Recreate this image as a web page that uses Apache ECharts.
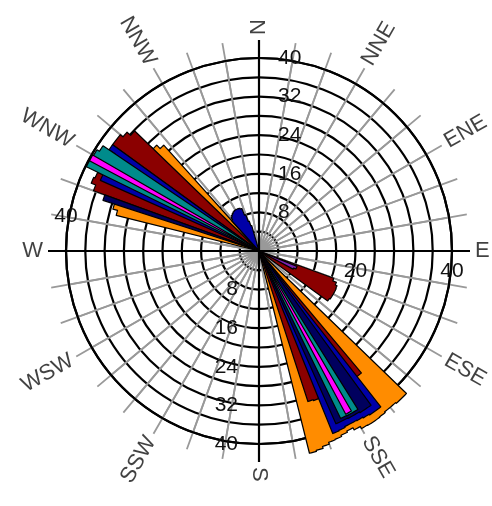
<!DOCTYPE html>
<html>
<head>
<meta charset="utf-8">
<script src="https://cdn.jsdelivr.net/npm/echarts@6/dist/echarts.min.js"></script>
<style>
  html, body { margin: 0; padding: 0; background: #fff; }
  #chart { width: 492px; height: 506px; }
</style>
</head>
<body>
<div id="chart"></div>
<script>
// Compass names every 30 degrees, clockwise from north
const directionNames  = ['N', 'NNE', 'ENE', 'E', 'ESE', 'SSE', 'S', 'SSW', 'WSW', 'W', 'WNW', 'NNW'];
const directionAngles = [0, 30, 60, 90, 120, 150, 180, 210, 240, 270, 300, 330];

// Radial tick labels written along each half-axis
const northTicks = [8, 16, 24, 32, 40];
const southTicks = [8, 16, 24, 32, 40];
const eastTicks  = [20, 40];
const westTicks  = [40];

// Direction bins are 2 degrees wide; each run is [first bin angle, values per bin]
const BIN = 2;
const orangeRuns = [
  [134, [42.5, 42.5, 42.3, 42.3, 42.5, 42.6, 42.6, 42.5, 42.0, 41.5, 41.8, 42.1, 42.2, 42.6, 43.0, 43.2]],
  [284, [30.5, 31.5, 31.5, 31, 31, 31, 31, 31, 31, 31, 31, 31, 31, 31, 31, 30.5, 29.5]]
];
const darkRedRuns = [
  [110, [16.5, 17.3, 17.7, 17.8, 17.8, 17.8, 17.8, 17.6]],
  [140, [33, 33, 33, 33, 33, 33, 33, 33, 32.8, 33, 32.8]],
  [290, [36.5, 37.5, 37.2]],
  [306, [37.5, 37.5, 36.8, 35.8]]
];
const blueRuns = [
  [142, [41, 41, 40.8, 40.6, 40.5, 40.5, 40.7, 40.8]],
  [294, [36, 36, 36, 36, 36, 37.5]],
  [318, [8.5, 9, 9.3, 9.5, 9.7, 9.8, 9.8, 9.8, 9.7, 9.5, 8, 6.5, 5.5]]
];
const navyRuns = [
  [144, [39.5, 39.5, 39.3, 39.3, 39.2, 39.2]],
  [288, [34]]
];
const tealRuns = [
  [148, [38.7, 38.7, 38.6]],
  [296, [39.8, 39.8, 39.6, 39.0]]
];
const magentaRuns = [
  [150, [38.3]],
  [298, [39.8]]
];
const purpleRuns = [
  [112, [8.5, 8.5, 8]]
];

// Drawn bottom to top
const layers = [
  { name: 'orange',  color: '#ff8c00', runs: orangeRuns },
  { name: 'darkred', color: '#8b0000', runs: darkRedRuns },
  { name: 'blue',    color: '#0000a8', runs: blueRuns },
  { name: 'navy',    color: '#00005e', runs: navyRuns },
  { name: 'teal',    color: '#008b8b', runs: tealRuns },
  { name: 'magenta', color: '#ff00ff', runs: magentaRuns },
  { name: 'purple',  color: '#7a22b0', runs: purpleRuns }
];

const CENTER = [259, 251];
const RIM = 193;          // pixel radius of the 40 ring
const RMAX = 40;
const SPOKE_END = 211;
const NAME_RADIUS = 216;
const FONT = 'Liberation Sans, Arial, sans-serif';

function plainAngle(startAngle) {
  return { type: 'value', min: 0, max: 360, startAngle: startAngle, clockwise: true, show: false };
}

function tickAxis(polarIndex, interval, ticks, margin, align) {
  return {
    polarIndex: polarIndex, type: 'value', min: 0, max: RMAX, interval: interval,
    axisLine: { show: false }, axisTick: { show: false }, splitLine: { show: false },
    axisLabel: {
      show: true, margin: margin, align: align, verticalAlign: 'middle',
      color: '#111', fontSize: 21, fontFamily: FONT,
      formatter: v => (ticks.indexOf(v) >= 0 ? String(v) : '')
    }
  };
}

// One closed petal per run: from the centre out along each bin's radius and back
function petalRenderer(layer) {
  return function (params, api) {
    const [start, vals] = layer.runs[params.dataIndex];
    const pts = [api.coord([0, start])];
    vals.forEach((v, k) => {
      const a0 = start + k * BIN;
      for (let s = 0; s <= 4; s++) {
        pts.push(api.coord([v, a0 + s * BIN / 4]));
      }
    });
    pts.push(api.coord([0, start]));
    return {
      type: 'polygon',
      shape: { points: pts },
      style: { fill: layer.color, stroke: '#000', lineWidth: 1.2, lineJoin: 'round' }
    };
  };
}

const petalSeries = layers.map((layer, i) => ({
  name: layer.name,
  type: 'custom',
  coordinateSystem: 'polar',
  polarIndex: 3,
  clip: false,
  silent: true,
  z: 3 + i * 0.01,
  data: layer.runs.map(run => [0, run[0]]),
  renderItem: petalRenderer(layer)
}));

const nameSeries = {
  type: 'scatter',
  coordinateSystem: 'polar',
  polarIndex: 4,
  symbolSize: 0,
  silent: true,
  z: 5,
  data: directionNames.map((name, i) => {
    const a = directionAngles[i];
    const rightHalf = a <= 180;
    return {
      name: name,
      value: [1, a],
      label: {
        rotate: rightHalf ? 90 - a : 270 - a,
        align: rightHalf ? 'left' : 'right'
      }
    };
  }),
  label: {
    show: true,
    position: 'inside',
    verticalAlign: 'middle',
    formatter: p => p.name,
    color: '#111',
    fontSize: 22,
    fontFamily: FONT
  }
};

const option = {
  animation: false,
  backgroundColor: '#ffffff',
  polar: [
    { center: CENTER, radius: RIM },                 // 0 rings and spokes
    { center: CENTER, radius: SPOKE_END },           // 1 spokes past the rim
    { center: CENTER, radius: SPOKE_END },           // 2 compass cross
    { center: CENTER, radius: RIM * 45 / RMAX },     // 3 petals
    { center: CENTER, radius: NAME_RADIUS },         // 4 compass names
    { center: CENTER, radius: RIM },                 // 5 north ticks
    { center: CENTER, radius: RIM },                 // 6 east ticks
    { center: CENTER, radius: RIM },                 // 7 south ticks
    { center: CENTER, radius: RIM }                  // 8 west ticks
  ],
  angleAxis: [
    {
      polarIndex: 0, type: 'value', min: 0, max: 360, interval: 10, startAngle: 90, clockwise: true,
      axisLine: { show: true, lineStyle: { color: '#000', width: 2.2 } },
      axisTick: { show: false }, axisLabel: { show: false },
      splitLine: { show: true, lineStyle: { color: '#999', width: 1.8 } }
    },
    {
      polarIndex: 1, type: 'value', min: 0, max: 360, interval: 10, startAngle: 90, clockwise: true,
      axisLine: { show: false }, axisTick: { show: false }, axisLabel: { show: false },
      splitLine: { show: true, lineStyle: { color: '#999', width: 1.8 } }
    },
    {
      polarIndex: 2, type: 'value', min: 0, max: 360, interval: 90, startAngle: 90, clockwise: true,
      axisLine: { show: false }, axisTick: { show: false }, axisLabel: { show: false },
      splitLine: { show: true, lineStyle: { color: '#000', width: 2.2 } }
    },
    Object.assign({ polarIndex: 3 }, plainAngle(90)),
    Object.assign({ polarIndex: 4 }, plainAngle(90)),
    Object.assign({ polarIndex: 5 }, plainAngle(90)),
    Object.assign({ polarIndex: 6 }, plainAngle(0)),
    Object.assign({ polarIndex: 7 }, plainAngle(270)),
    Object.assign({ polarIndex: 8 }, plainAngle(180))
  ],
  radiusAxis: [
    {
      polarIndex: 0, type: 'value', min: 0, max: RMAX, interval: 4,
      axisLine: { show: false }, axisTick: { show: false }, axisLabel: { show: false },
      splitLine: { show: true, lineStyle: { color: '#000', width: 2.2 } }
    },
    { polarIndex: 1, type: 'value', min: 0, max: 1, show: false },
    { polarIndex: 2, type: 'value', min: 0, max: 1, show: false },
    { polarIndex: 3, type: 'value', min: 0, max: 45, show: false },
    { polarIndex: 4, type: 'value', min: 0, max: 1, show: false },
    tickAxis(5, 8, northTicks, -19, 'left'),
    tickAxis(6, 20, eastTicks, -20, 'center'),
    tickAxis(7, 8, southTicks, -21, 'right'),
    tickAxis(8, 40, westTicks, -35, 'center')
  ],
  series: petalSeries.concat([nameSeries])
};

const chart = echarts.init(document.getElementById('chart'), null, { renderer: 'canvas' });
chart.setOption(option);
</script>
</body>
</html>
